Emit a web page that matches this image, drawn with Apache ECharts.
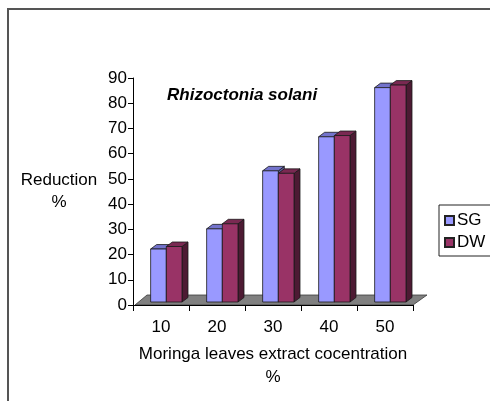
<!DOCTYPE html>
<html>
<head>
<meta charset="utf-8">
<script src="https://cdn.jsdelivr.net/npm/echarts@6/dist/echarts.min.js"></script>
<style>
  html, body { margin: 0; padding: 0; background: #fff; }
  #chart { width: 490px; height: 401px; }
</style>
</head>
<body>
<div id="chart"></div>
<script>
// Moringa leaf extract concentration (%) and reduction (%) of Rhizoctonia solani
const categories = ['10', '20', '30', '40', '50'];
const sgValues = [21, 29, 52, 65.5, 85];
const dwValues = [22, 31, 51, 66, 86];
const yMin = 0, yMax = 90, yStep = 10;

const FONT = '"Liberation Sans", Arial, sans-serif';
const FS = 17;

// Depth offsets for the pseudo-3D columns and floor
const DEPTH_X = 6, DEPTH_Y = -4.5;
const FLOOR_DX = 14, FLOOR_DY = -10;

function barRenderer(slot, front, top, side) {
  return function (params, api) {
    const idx = api.value(0);
    const val = api.value(1);
    const base = api.coord([idx, 0]);
    const head = api.coord([idx, val]);
    const band = api.size([1, 0])[0];
    const w = band * 0.28;
    const shiftX = band * 0.095;
    const shiftY = -3;
    const x0 = base[0] + shiftX + (slot === 0 ? -w : 0);
    const x1 = x0 + w;
    const yb = base[1] + shiftY;
    const yt = head[1] + shiftY;
    const stroke = { stroke: '#1a1a1a', lineWidth: 0.8 };
    return {
      type: 'group',
      children: [
        {
          type: 'polygon',
          shape: { points: [[x1, yt], [x1 + DEPTH_X, yt + DEPTH_Y], [x1 + DEPTH_X, yb + DEPTH_Y], [x1, yb]] },
          style: Object.assign({ fill: side }, stroke)
        },
        {
          type: 'polygon',
          shape: { points: [[x0, yt], [x1, yt], [x1 + DEPTH_X, yt + DEPTH_Y], [x0 + DEPTH_X, yt + DEPTH_Y]] },
          style: Object.assign({ fill: top }, stroke)
        },
        {
          type: 'rect',
          shape: { x: x0, y: yt, width: w, height: yb - yt },
          style: Object.assign({ fill: front }, stroke)
        }
      ]
    };
  };
}

function floorRenderer(params, api) {
  const cs = params.coordSys;
  const yf = cs.y + cs.height;
  const xl = cs.x + 2;
  const xr = cs.x + cs.width;
  return {
    type: 'polygon',
    shape: { points: [[xl, yf], [xr, yf], [xr + FLOOR_DX, yf + FLOOR_DY], [xl + FLOOR_DX - 2, yf + FLOOR_DY]] },
    style: { fill: '#808080', stroke: '#3a3a3a', lineWidth: 0.8 }
  };
}

const chart = echarts.init(document.getElementById('chart'), null, { renderer: 'canvas' });

chart.setOption({
  animation: false,
  backgroundColor: '#ffffff',
  textStyle: { fontFamily: FONT },
  title: {
    text: 'Rhizoctonia solani',
    left: 167,
    top: 87,
    padding: 0,
    textStyle: { fontFamily: FONT, fontSize: FS, fontWeight: 'bold', fontStyle: 'italic', color: '#000' }
  },
  legend: {
    data: ['SG', 'DW'],
    orient: 'vertical',
    left: 439,
    top: 205,
    padding: [7, 20, 5, 5],
    itemGap: 5,
    itemWidth: 9,
    itemHeight: 9,
    icon: 'rect',
    borderColor: '#222',
    borderWidth: 1,
    backgroundColor: '#fff',
    textStyle: { fontFamily: FONT, fontSize: FS, color: '#000', padding: [0, 0, 0, -2] }
  },
  grid: { left: 133, top: 78, width: 280, height: 227 },
  xAxis: {
    type: 'category',
    data: categories,
    z: 5,
    name: 'Moringa leaves extract cocentration\n%',
    nameLocation: 'middle',
    nameGap: 38,
    nameTextStyle: { fontFamily: FONT, fontSize: FS, color: '#000', lineHeight: 23, verticalAlign: 'top' },
    axisLine: { lineStyle: { color: '#000', width: 1 } },
    axisTick: { show: true, length: 6, lineStyle: { color: '#000' } },
    axisLabel: { margin: 14, fontFamily: FONT, fontSize: FS, color: '#000' },
    splitLine: { show: false }
  },
  yAxis: {
    type: 'value',
    min: yMin,
    max: yMax,
    interval: yStep,
    name: 'Reduction\n%',
    nameLocation: 'middle',
    nameRotate: 0,
    nameGap: 74,
    nameTextStyle: { fontFamily: FONT, fontSize: FS, color: '#000', lineHeight: 22, align: 'center', padding: [6, 0, 0, 0] },
    axisLine: { show: true, lineStyle: { color: '#000', width: 1 } },
    axisTick: { show: true, length: 5, lineStyle: { color: '#000' } },
    axisLabel: { margin: 6, fontFamily: FONT, fontSize: FS, color: '#000', padding: [3, 0, 0, 0] },
    splitLine: { show: false }
  },
  graphic: [
    {
      type: 'polyline',
      silent: true,
      shape: { points: [[8, 401], [8, 9], [490, 9]] },
      style: { stroke: '#555', lineWidth: 2, fill: null }
    }
  ],
  series: [
    {
      type: 'custom',
      name: 'floor',
      z: 1,
      silent: true,
      renderItem: floorRenderer,
      data: [[0, 0]],
      encode: { x: 0, y: 1 }
    },
    {
      type: 'custom',
      name: 'SG',
      z: 2,
      itemStyle: { color: '#9999FF', borderColor: '#222', borderWidth: 1 },
      renderItem: barRenderer(0, '#9999FF', '#7373CC', '#5C5C99'),
      data: sgValues.map((v, i) => [i, v]),
      encode: { x: 0, y: 1 }
    },
    {
      type: 'custom',
      name: 'DW',
      z: 3,
      itemStyle: { color: '#993366', borderColor: '#222', borderWidth: 1 },
      renderItem: barRenderer(1, '#993366', '#7A2952', '#4D1A33'),
      data: dwValues.map((v, i) => [i, v]),
      encode: { x: 0, y: 1 }
    }
  ]
});
</script>
</body>
</html>
